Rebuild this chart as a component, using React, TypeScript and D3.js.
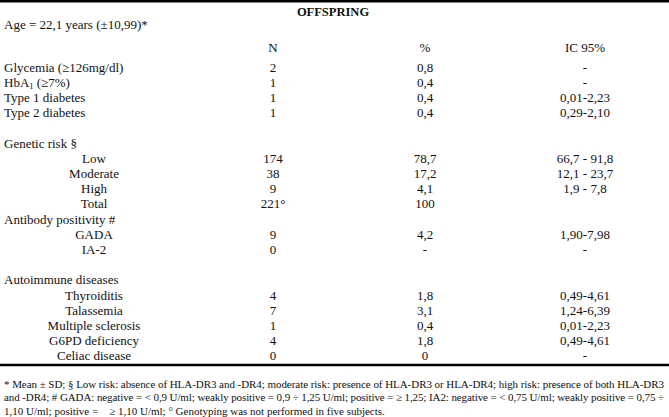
import React from 'react';
import * as d3 from 'd3';

// Table content
const title = 'OFFSPRING';
const ageLine = 'Age = 22,1 years (±10,99)*';
const columnHeads = ['N', '%', 'IC 95%'];

// kind: head = section heading, item = left row with values, sub = centred sub row, blank = spacer
const rowLabels = [
  'Glycemia (≥126mg/dl)', 'HbA1c (≥7%)', 'Type 1 diabetes', 'Type 2 diabetes', '',
  'Genetic risk §', 'Low', 'Moderate', 'High', 'Total',
  'Antibody positivity #', 'GADA', 'IA-2', '',
  'Autoimmune diseases', 'Thyroiditis', 'Talassemia', 'Multiple sclerosis', 'G6PD deficiency', 'Celiac disease',
];
const rowKinds = [
  'item', 'item', 'item', 'item', 'blank',
  'head', 'sub', 'sub', 'sub', 'sub',
  'head', 'sub', 'sub', 'blank',
  'head', 'sub', 'sub', 'sub', 'sub', 'sub',
];
const nValues = ['2', '1', '1', '1', '', '', '174', '38', '9', '221°', '', '9', '0', '', '', '4', '7', '1', '4', '0'];
const pctValues = ['0,8', '0,4', '0,4', '0,4', '', '', '78,7', '17,2', '4,1', '100', '', '4,2', '-', '', '', '1,8', '3,1', '0,4', '1,8', '0'];
const ciValues = [
  '-', '-', '0,01-2,23', '0,29-2,10', '',
  '', '66,7 - 91,8', '12,1 - 23,7', '1,9 - 7,8', '',
  '', '1,90-7,98', '-', '',
  '', '0,49-4,61', '1,24-6,39', '0,01-2,23', '0,49-4,61', '-',
];

const footnotes = [
  '* Mean ± SD; § Low risk: absence of HLA-DR3 and -DR4; moderate risk: presence of HLA-DR3 or HLA-DR4; high risk: presence of both HLA-DR3',
  'and -DR4; # GADA: negative = < 0,9 U/ml; weakly positive = 0,9 ÷ 1,25 U/ml; positive = ≥ 1,25; IA2: negative = < 0,75 U/ml; weakly positive = 0,75 ÷',
  '1,10 U/ml; positive =    ≥ 1,10 U/ml; ° Genotyping was not performed in five subjects.',
];

const width = 669;
const height = 417;
const font = '"Liberation Serif", "Times New Roman", serif';
const ink = '#111';

const App = () => {
  // rows placed with a point scale, columns with an ordinal lookup
  const rowIdx = d3.range(rowLabels.length);
  const yScale = d3
    .scalePoint<number>()
    .domain(rowIdx)
    .range([67, 67 + 15.2 * (rowLabels.length - 1)]);

  const xCol = d3.scaleOrdinal<string, number>().domain(columnHeads).range([273, 425, 585]);
  const subX = 94;
  const base = 4.5; // centre -> baseline

  const renderLabel = (label: string) => {
    if (label.startsWith('HbA1c')) {
      return (
        <>
          HbA<tspan fontSize={8.5} dy={2}>1</tspan>
          <tspan dy={-2}>{label.slice(5)}</tspan>
        </>
      );
    }
    return label;
  };

  return (
    <svg
      width={width}
      height={height}
      style={{ position: 'absolute', left: 0, top: 0, background: '#fff' }}
      fontFamily={font}
      fill={ink}
    >
      {/* top and bottom rules */}
      <line x1={0} x2={width} y1={1.2} y2={1.2} stroke="#000" strokeWidth={2.5} />
      <line x1={0} x2={width} y1={365} y2={365} stroke="#000" strokeWidth={2.5} />

      <text x={333} y={15.5} textAnchor="middle" fontWeight="bold" fontSize={12.5}>
        {title}
      </text>
      <text x={4} y={24 + base} fontSize={13}>
        {ageLine}
      </text>

      {columnHeads.map((h) => (
        <text key={h} x={xCol(h)} y={47 + base} textAnchor="middle" fontSize={13}>
          {h}
        </text>
      ))}

      {rowIdx.map((i) => {
        const kind = rowKinds[i];
        if (kind === 'blank') return null;
        const y = (yScale(i) ?? 0) + base;
        return (
          <g key={i} fontSize={13}>
            <text x={kind === 'sub' ? subX : 4} y={y} textAnchor={kind === 'sub' ? 'middle' : 'start'}>
              {renderLabel(rowLabels[i])}
            </text>
            {[nValues[i], pctValues[i], ciValues[i]].map((v, j) =>
              v ? (
                <text key={j} x={xCol(columnHeads[j])} y={y} textAnchor="middle">
                  {v}
                </text>
              ) : null
            )}
          </g>
        );
      })}

      {footnotes.map((f, i) => (
        <text
          key={i}
          x={4}
          y={388 + i * 13.3}
          fontSize={11}
          style={{ whiteSpace: 'pre' }}
          textLength={i < 2 ? 660 : undefined}
          lengthAdjust={i < 2 ? 'spacing' : undefined}
        >
          {f}
        </text>
      ))}
    </svg>
  );
};

export default App;
